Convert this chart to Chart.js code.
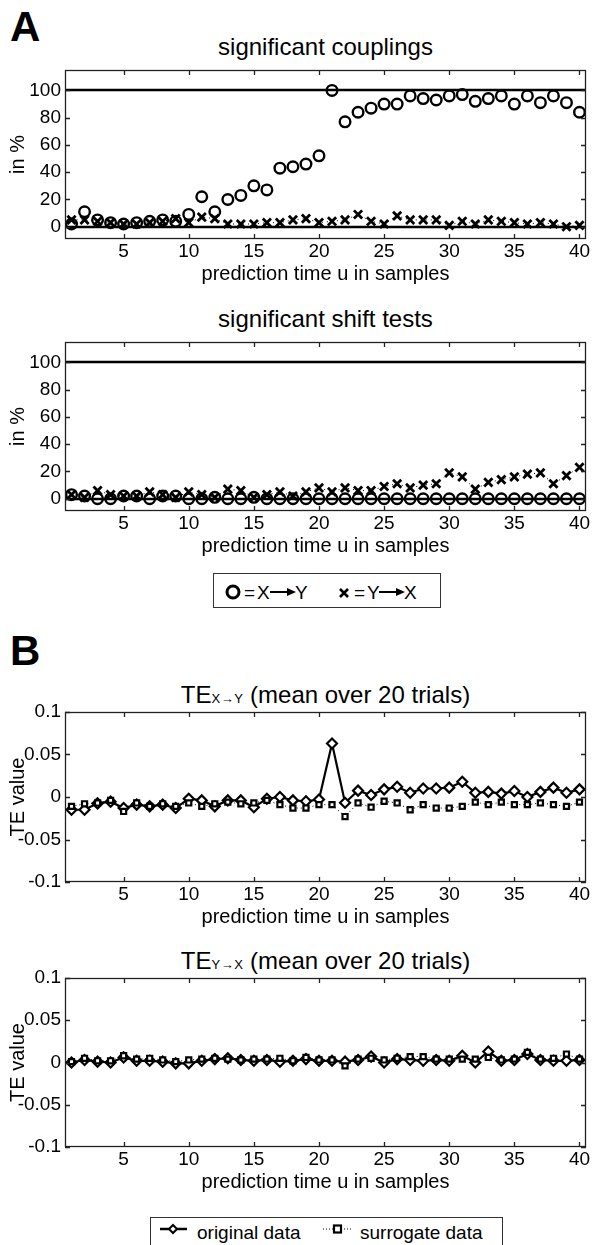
<!DOCTYPE html>
<html>
<head>
<meta charset="utf-8">
<script src="https://cdn.jsdelivr.net/npm/chart.js@4"></script>
<style>
  body { margin: 0; background: #fff; width: 600px; height: 1245px; position: relative; overflow: hidden;
         font-family: "Liberation Sans", Arial, sans-serif; color: #000; }
  .panel { position: absolute; left: 0; width: 600px; }
  .title { position: absolute; left: 65px; width: 521px; text-align: center; font-size: 24px; line-height: 28px; white-space: nowrap; }
  .big { position: absolute; left: 10px; font-size: 42px; font-weight: bold; line-height: 42px; }
  .sub { font-size: 13px; letter-spacing: 0.5px; }
  .legend { position: absolute; border: 1.5px solid #333; box-sizing: border-box; }
  .legend > * { position: absolute; }
  .legend span { font-size: 19px; line-height: 19px; white-space: nowrap; }
</style>
</head>
<body>
<div class="big" style="top:6px">A</div>
<div class="big" style="top:630px">B</div>

<div class="title" style="top:33px">significant couplings</div>
<div class="title" style="top:305px">significant shift tests</div>
<div class="title" style="top:681px">TE<span class="sub">X→Y</span> (mean over 20 trials)</div>
<div class="title" style="top:947px">TE<span class="sub">Y→X</span> (mean over 20 trials)</div>

<canvas id="a1" class="panel" width="600" height="231" style="top:56px"></canvas>
<canvas id="a2" class="panel" width="600" height="231" style="top:328px"></canvas>
<canvas id="b1" class="panel" width="600" height="232" style="top:698px"></canvas>
<canvas id="b2" class="panel" width="600" height="231" style="top:964px"></canvas>

<div class="legend" style="left:213px; top:573px; width:228px; height:35px;">
  <svg style="left:11px; top:10px" width="16" height="16"><circle cx="8" cy="8" r="6" fill="none" stroke="#000" stroke-width="3"/></svg>
  <span style="left:30px; top:9px">=</span>
  <span style="left:43px; top:9px">X</span>
  <svg style="left:56px; top:13px" width="26" height="10"><line x1="0" y1="5" x2="19" y2="5" stroke="#000" stroke-width="2"/><path d="M17 1 L26 5 L17 9 Z" fill="#000"/></svg>
  <span style="left:81px; top:9px">Y</span>
  <svg style="left:124px; top:13px" width="12" height="12"><path d="M2 2 L10 10 M10 2 L2 10" stroke="#000" stroke-width="2.6"/></svg>
  <span style="left:140px; top:9px">=</span>
  <span style="left:153px; top:9px">Y</span>
  <svg style="left:165px; top:13px" width="26" height="10"><line x1="0" y1="5" x2="19" y2="5" stroke="#000" stroke-width="2"/><path d="M17 1 L26 5 L17 9 Z" fill="#000"/></svg>
  <span style="left:190px; top:9px">X</span>
</div>

<div class="legend" style="left:150px; top:1217px; width:353px; height:30px;">
  <svg style="left:9px; top:4px" width="27" height="14"><line x1="0" y1="7" x2="27" y2="7" stroke="#000" stroke-width="2.5"/><path d="M13 3 L17 7 L13 11 L9 7 Z" fill="#fff" stroke="#000" stroke-width="2"/></svg>
  <span style="left:46px; top:5px">original data</span>
  <svg style="left:172px; top:4px" width="28" height="14"><line x1="0" y1="7" x2="28" y2="7" stroke="#000" stroke-width="1" stroke-dasharray="1 2"/><rect x="11" y="3.5" width="7" height="7" fill="#fff" stroke="#000" stroke-width="2.2"/></svg>
  <span style="left:209px; top:5px">surrogate data</span>
</div>

<script>
// prediction time u = 1..40
const lags = [1,2,3,4,5,6,7,8,9,10,11,12,13,14,15,16,17,18,19,20,
              21,22,23,24,25,26,27,28,29,30,31,32,33,34,35,36,37,38,39,40];
const xTicks = [5,10,15,20,25,30,35,40];
const pctTicks = [0,20,40,60,80,100];
const teTicks = [-0.1,-0.05,0,0.05,0.1];
const pctRefLines = [0,100];

// A: significant couplings (%)
const coupXY = [2,11,5,3,2,3,4,5,4,9,22,11,20,23,30,27,43,44,46,52,
                100,77,84,87,90,90,96,94,93,96,97,92,94,96,90,96,91,96,91,84];
const coupYX = [5,5,4,3,2,2,3,4,6,3,7,6,2,2,2,3,3,5,6,3,
                4,5,9,4,2,8,5,5,5,1,4,2,5,4,3,2,3,2,0,1];
// A: significant shift tests (%)
const shiftXY = [3,2,0,0,2,2,0,2,2,0,0,1,0,0,1,0,0,0,0,0,
                 0,0,0,0,0,0,0,0,0,0,0,0,0,0,0,0,0,0,0,0];
const shiftYX = [3,1,6,3,2,2,5,3,1,5,3,1,7,6,1,3,5,2,5,8,
                 5,8,6,6,9,11,8,10,11,19,16,7,12,14,16,18,19,11,17,23];

// B: TE X->Y
const teXYorig = [-0.015,-0.015,-0.0075,-0.0055,-0.013,-0.009,-0.011,-0.009,-0.013,-0.002,
                  -0.004,-0.011,-0.004,-0.004,-0.012,-0.002,0.000,-0.004,-0.005,-0.003,
                  0.063,-0.0067,0.0075,0.0024,0.009,0.012,0.005,0.010,0.010,0.011,
                  0.018,0.005,0.006,0.004,0.007,0.000,0.006,0.011,0.005,0.009];
const teXYsurr = [-0.011,-0.008,-0.007,-0.004,-0.017,-0.007,-0.011,-0.008,-0.011,-0.007,
                  -0.011,-0.008,-0.006,-0.008,-0.007,-0.004,-0.009,-0.013,-0.013,-0.009,
                  -0.009,-0.023,-0.007,-0.012,-0.005,-0.007,-0.015,-0.009,-0.013,-0.013,
                  -0.011,-0.006,-0.009,-0.006,-0.009,-0.009,-0.007,-0.009,-0.011,-0.006];
// B: TE Y->X
const teYXorig = [0.000,0.003,0.001,0.000,0.006,0.002,0.002,0.001,-0.001,-0.001,
                  0.002,0.004,0.005,0.003,0.002,0.003,0.001,0.002,0.004,0.002,
                  0.002,0.001,0.003,0.007,0.000,0.004,0.003,0.002,0.003,0.002,
                  0.008,0.000,0.013,0.002,0.003,0.010,0.003,0.002,0.002,0.003];
const teYXsurr = [0.001,0.005,0.002,0.002,0.008,0.004,0.005,0.003,0.001,0.003,
                  0.004,0.005,0.004,0.003,0.004,0.004,0.005,0.002,0.006,0.003,
                  0.003,-0.004,0.004,0.005,0.003,0.005,0.007,0.007,0.004,0.004,
                  0.004,0.004,0.006,0.003,0.004,0.012,0.004,0.005,0.010,0.004];

Chart.defaults.font.family = "'Liberation Sans', Arial, sans-serif";
Chart.defaults.color = "#000";
Chart.defaults.animation = false;

const pts = (ys) => lags.map((u, i) => ({ x: u, y: ys[i] }));

// matlab style box with inward ticks + optional horizontal reference lines
const boxPlugin = {
  id: "box",
  afterDatasetsDraw(chart, args, opts) {
    const { ctx, chartArea: a, scales } = chart;
    ctx.save();
    ctx.strokeStyle = "#000";
    if (opts.refLines) {
      ctx.lineWidth = 2.5;
      opts.refLines.forEach((v) => {
        const y = Math.round(scales.y.getPixelForValue(v));
        ctx.beginPath(); ctx.moveTo(a.left, y); ctx.lineTo(a.right, y); ctx.stroke();
      });
    }
    ctx.lineWidth = 1.3;
    ctx.strokeStyle = "#222";
    ctx.strokeRect(a.left + 0.5, a.top + 0.5, a.right - a.left - 1, a.bottom - a.top - 1);
    const t = 5;
    ctx.beginPath();
    scales.x.ticks.forEach((tk) => {
      const x = Math.round(scales.x.getPixelForValue(tk.value)) + 0.5;
      ctx.moveTo(x, a.bottom); ctx.lineTo(x, a.bottom - t);
      ctx.moveTo(x, a.top); ctx.lineTo(x, a.top + t);
    });
    scales.y.ticks.forEach((tk) => {
      const y = Math.round(scales.y.getPixelForValue(tk.value)) + 0.5;
      ctx.moveTo(a.left, y); ctx.lineTo(a.left + t, y);
      ctx.moveTo(a.right, y); ctx.lineTo(a.right - t, y);
    });
    ctx.stroke();
    ctx.restore();
  },
};

function makeChart(id, datasets, yMin, yMax, yTicks, yTitle, refLines) {
  return new Chart(document.getElementById(id), {
    type: "line",
    data: { datasets },
    plugins: [boxPlugin],
    options: {
      responsive: false,
      layout: { padding: { left: 0, right: 14, top: 14, bottom: 0 } },
      plugins: { legend: { display: false }, tooltip: { enabled: false }, box: { refLines } },
      scales: {
        x: {
          type: "linear", min: 0.5, max: 40.5,
          afterBuildTicks: (s) => { s.ticks = xTicks.map((v) => ({ value: v })); },
          afterFit: (s) => { s.height = 48; s.paddingLeft = 0; s.paddingRight = 0; },
          grid: { display: false, drawTicks: false },
          border: { display: false },
          ticks: { font: { size: 19 }, padding: 1, maxRotation: 0 },
          title: { display: true, text: "prediction time u in samples", font: { size: 20 }, padding: { top: 0, bottom: 1 } },
        },
        y: {
          min: yMin, max: yMax,
          afterBuildTicks: (s) => { s.ticks = yTicks.map((v) => ({ value: v })); },
          afterFit: (s) => { s.width = 65; s.paddingTop = 0; s.paddingBottom = 0; },
          grid: { display: false, drawTicks: false },
          border: { display: false },
          ticks: { font: { size: 19 }, padding: 4, callback: (v) => String(v) },
          title: { display: true, text: yTitle, font: { size: 20 }, padding: { top: 6, bottom: 0 } },
        },
      },
    },
  });
}

const circleDs = (ys) => ({
  data: pts(ys), showLine: false, pointStyle: "circle", pointRadius: 5.3,
  borderColor: "#000", backgroundColor: "rgba(0,0,0,0)", borderWidth: 2.4,
});
const crossDs = (ys) => ({
  data: pts(ys), showLine: true, borderDash: [1, 4], borderWidth: 1, borderColor: "#000",
  pointStyle: "crossRot", pointRadius: 5.8, pointBorderWidth: 2.8, pointBorderColor: "#000",
});
const origDs = (ys) => ({
  data: pts(ys), borderColor: "#000", borderWidth: 2.2, tension: 0,
  pointStyle: "rectRot", pointRadius: 5, pointBackgroundColor: "#fff",
  pointBorderColor: "#000", pointBorderWidth: 2.2,
});
const surrDs = (ys) => ({
  data: pts(ys), borderColor: "#000", borderWidth: 1, borderDash: [1, 3], tension: 0,
  pointStyle: "rect", pointRadius: 3.6, pointBackgroundColor: "#fff",
  pointBorderColor: "#000", pointBorderWidth: 2.2,
});

makeChart("a1", [crossDs(coupYX), circleDs(coupXY)], -9, 115, pctTicks, "in %", pctRefLines);
makeChart("a2", [circleDs(shiftXY), crossDs(shiftYX)], -9, 115, pctTicks, "in %", pctRefLines);
makeChart("b1", [surrDs(teXYsurr), origDs(teXYorig)], -0.1, 0.1, teTicks, "TE value");
makeChart("b2", [surrDs(teYXsurr), origDs(teYXorig)], -0.1, 0.1, teTicks, "TE value");
</script>
</body>
</html>
